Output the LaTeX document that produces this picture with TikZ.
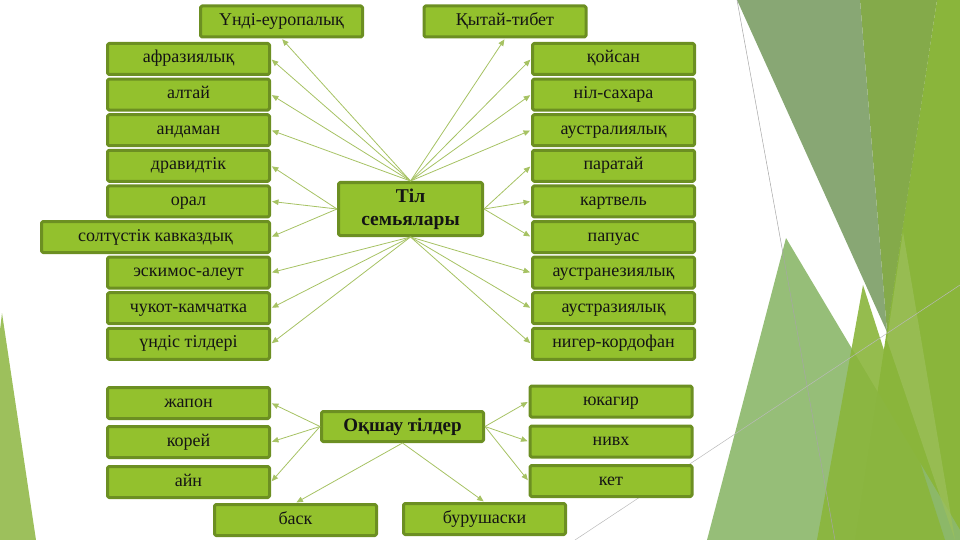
\documentclass[tikz,border=0pt]{standalone}
\usepackage{fontspec}
\setmainfont{Liberation Serif}
\usetikzlibrary{arrows.meta}
\definecolor{boxfill}{HTML}{93C12D}
\definecolor{boxline}{HTML}{6C8F22}
\definecolor{arrline}{HTML}{A6C263}
\definecolor{facetgrey}{HTML}{88A774}
\definecolor{facetolive}{HTML}{84AA4A}
\definecolor{facetbright}{HTML}{8AB53B}
\definecolor{facetmid}{HTML}{8DB96C}
\definecolor{facetlight}{HTML}{9DC05C}

\begin{document}
\begin{tikzpicture}[x=1pt, y=-1pt, line join=round,
    >={Triangle[length=6.5pt,width=5.5pt]},
    box/.style={draw=boxline, fill=boxfill, line width=3pt, rounded corners=1.5pt,
                minimum width=162pt, minimum height=31pt, inner sep=0pt, text=black!92},
    fam/.style={box, font=\fontsize{18}{21}\selectfont, text height=12pt, text depth=4pt},
    hub/.style={box, font=\fontsize{19.5}{23}\selectfont\bfseries, align=center},
    arr/.style={draw=arrline, line width=0.8pt, ->, shorten >=1pt}]
	\useasboundingbox (0,0) rectangle (960,540);
	
	% background facets
	\fill[facetlight] (2,313) -- (36,540) -- (0,540) -- (0,330) -- cycle;
	\fill[facetbright] (937,0) -- (960,0) -- (960,540) -- (855,540) -- cycle;
	\fill[facetmid, opacity=0.92] (786,238) -- (960,530) -- (960,540) -- (707,540) -- cycle;
	\fill[facetolive] (860,0) -- (937,0) -- (887,332) -- cycle;
	\fill[facetgrey] (737,0) -- (860,0) -- (887,332) -- cycle;
	\fill[facetlight, opacity=0.7] (903,232) -- (955,540) -- (887,340) -- cycle;
	\fill[facetbright, opacity=0.9] (863,285) -- (945,540) -- (817,540) -- cycle;
	\draw[gray!70, line width=0.5pt] (737,0) -- (835,540);
	\draw[gray!55, line width=0.5pt] (575,540) -- (960,285);
	
	% top boxes
	\node[fam] (undieur) at (281.5,21.5) {Үнді-еуропалық};
	\node[fam] (kytai) at (505,21.5) {Қытай-тибет};
	
	% left column
	\node[fam] (afraz) at (188.5,59) {афразиялық};
	\node[fam] (altai) at (188.5,94.6) {алтай};
	\node[fam] (andam) at (188.5,130.2) {андаман};
	\node[fam] (dravid) at (188.5,165.8) {дравидтік};
	\node[fam] (oral) at (188.5,201.4) {орал};
	\node[fam, minimum width=228pt] (kavkaz) at (155.5,237) {солтүстік кавказдық};
	\node[fam] (eskimos) at (188.5,272.6) {эскимос-алеут};
	\node[fam] (chukot) at (188.5,308.2) {чукот-камчатка};
	\node[fam] (undis) at (188.5,343.8) {үндіс тілдері};
	
	% right column
	\node[fam] (koisan) at (613.5,59) {қойсан};
	\node[fam] (nilsah) at (613.5,94.6) {ніл-сахара};
	\node[fam] (austral) at (613.5,130.2) {аустралиялық};
	\node[fam] (paratai) at (613.5,165.8) {паратай};
	\node[fam] (kartvel) at (613.5,201.4) {картвель};
	\node[fam] (papuas) at (613.5,237) {папуас};
	\node[fam] (austran) at (613.5,272.6) {аустранезиялық};
	\node[fam] (austraz) at (613.5,308.2) {аустразиялық};
	\node[fam] (niger) at (613.5,343.8) {нигер-кордофан};
	
	% centre
	\node[hub, minimum width=144pt, minimum height=53pt] (tilsem) at (410.5,209) {Тіл\\семьялары};
	
	\draw[arr] (tilsem.north) -- (undieur.south);
	\draw[arr] (tilsem.north) -- (kytai.south);
	\draw[arr] (tilsem.north) -- (afraz.east);
	\draw[arr] (tilsem.north) -- (altai.east);
	\draw[arr] (tilsem.north) -- (andam.east);
	\draw[arr] (tilsem.north) -- (koisan.west);
	\draw[arr] (tilsem.north) -- (nilsah.west);
	\draw[arr] (tilsem.north) -- (austral.west);
	\draw[arr] (tilsem.west) -- (dravid.east);
	\draw[arr] (tilsem.west) -- (oral.east);
	\draw[arr] (tilsem.west) -- (kavkaz.east);
	\draw[arr] (tilsem.east) -- (paratai.west);
	\draw[arr] (tilsem.east) -- (kartvel.west);
	\draw[arr] (tilsem.east) -- (papuas.west);
	\draw[arr] (tilsem.south) -- (eskimos.east);
	\draw[arr] (tilsem.south) -- (chukot.east);
	\draw[arr] (tilsem.south) -- (undis.east);
	\draw[arr] (tilsem.south) -- (austran.west);
	\draw[arr] (tilsem.south) -- (austraz.west);
	\draw[arr] (tilsem.south) -- (niger.west);
	
	% isolates
	\node[hub, font=\fontsize{19}{22}\selectfont\bfseries, minimum width=162pt, minimum height=30pt] (okshau) at (402.5,426.5) {Оқшау тілдер};
	\node[fam] (zhapon) at (188.5,403) {жапон};
	\node[fam] (korei) at (188.5,442) {корей};
	\node[fam] (ain) at (188.5,482) {айн};
	\node[fam] (yukag) at (611,401.5) {юкагир};
	\node[fam] (nivkh) at (611,441.5) {нивх};
	\node[fam] (ket) at (611,481) {кет};
	\node[fam] (bask) at (295.5,520) {баск};
	\node[fam] (burush) at (484.5,519) {бурушаски};
	
	\draw[arr] (okshau.west) -- (zhapon.east);
	\draw[arr] (okshau.west) -- (korei.east);
	\draw[arr] (okshau.west) -- (ain.east);
	\draw[arr] (okshau.east) -- (yukag.west);
	\draw[arr] (okshau.east) -- (nivkh.west);
	\draw[arr] (okshau.east) -- (ket.west);
	\draw[arr] (okshau.south) -- (bask.north);
	\draw[arr] (okshau.south) -- (burush.north);
\end{tikzpicture}
\end{document}
